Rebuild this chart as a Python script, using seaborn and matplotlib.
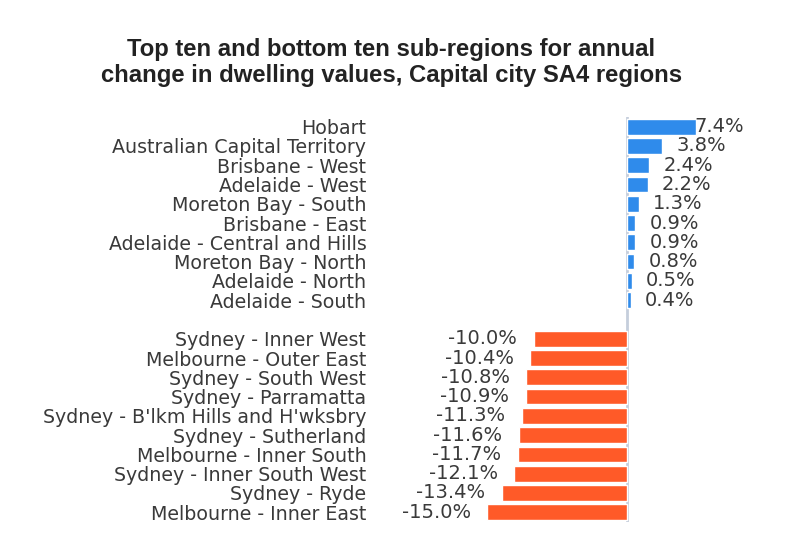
import matplotlib
matplotlib.use("Agg")
import matplotlib.pyplot as plt
import seaborn as sns
import pandas as pd

top_regions = ["Hobart", "Australian Capital Territory", "Brisbane - West", "Adelaide - West",
               "Moreton Bay - South", "Brisbane - East", "Adelaide - Central and Hills",
               "Moreton Bay - North", "Adelaide - North", "Adelaide - South"]
top_values = [7.4, 3.8, 2.4, 2.2, 1.3, 0.9, 0.9, 0.8, 0.5, 0.4]

bottom_regions = ["Sydney - Inner West", "Melbourne - Outer East", "Sydney - South West",
                  "Sydney - Parramatta", "Sydney - B'lkm Hills and H'wksbry", "Sydney - Sutherland",
                  "Melbourne - Inner South", "Sydney - Inner South West", "Sydney - Ryde",
                  "Melbourne - Inner East"]
bottom_values = [-10.0, -10.4, -10.8, -10.9, -11.3, -11.6, -11.7, -12.1, -13.4, -15.0]

title = "Top ten and bottom ten sub-regions for annual\nchange in dwelling values, Capital city SA4 regions"

sns.set_theme(style="white")
plt.rcParams['font.family'] = ['DejaVu Sans']

df = pd.DataFrame({
    "region": top_regions + bottom_regions,
    "value": top_values + bottom_values,
    "group": ["top"] * len(top_regions) + ["bottom"] * len(bottom_regions),
})
order = top_regions + [" "] + bottom_regions

fig = plt.figure(figsize=(7.87, 5.57), dpi=100)
ax = fig.add_axes([0.476, 0.063, 0.49, 0.727])

sns.barplot(data=df, y="region", x="value", hue="group", order=order,
            palette={"top": "#2F8BEB", "bottom": "#FF5A28"}, dodge=False,
            width=0.82, legend=False, ax=ax, saturation=1)

ax.set_xlim(-27.1, 14.3)
ax.set_ylim(len(order) - 0.5, -0.5)
ax.axvline(0, color="#C5CEDC", lw=2, zorder=0)
for s in ax.spines.values():
    s.set_visible(False)
ax.set_xticks([])
ax.set_xlabel("")
ax.set_ylabel("")
ax.tick_params(axis="y", length=0, pad=6, labelsize=13.7, labelcolor="#3a3a3a")

ypos = {r: i for i, r in enumerate(order)}
for r, v in zip(df["region"], df["value"]):
    if v >= 0:
        off = 10 if v < 7 else -1.5
        ax.annotate(f"{v:.1f}%", (v, ypos[r]), xytext=(off, 0), textcoords="offset points",
                    ha="left", va="center", fontsize=14, color="#3a3a3a")
    else:
        ax.annotate(f"{v:.1f}%", (v, ypos[r]), xytext=(-12, 0), textcoords="offset points",
                    ha="right", va="center", fontsize=14, color="#3a3a3a")

fig.text(0.497, 0.888, title, ha="center", va="center", fontsize=17.2, fontweight="bold",
         family="Liberation Sans", color="#222222", linespacing=1.15)

fig.savefig("out.png", dpi=100, facecolor="white")
